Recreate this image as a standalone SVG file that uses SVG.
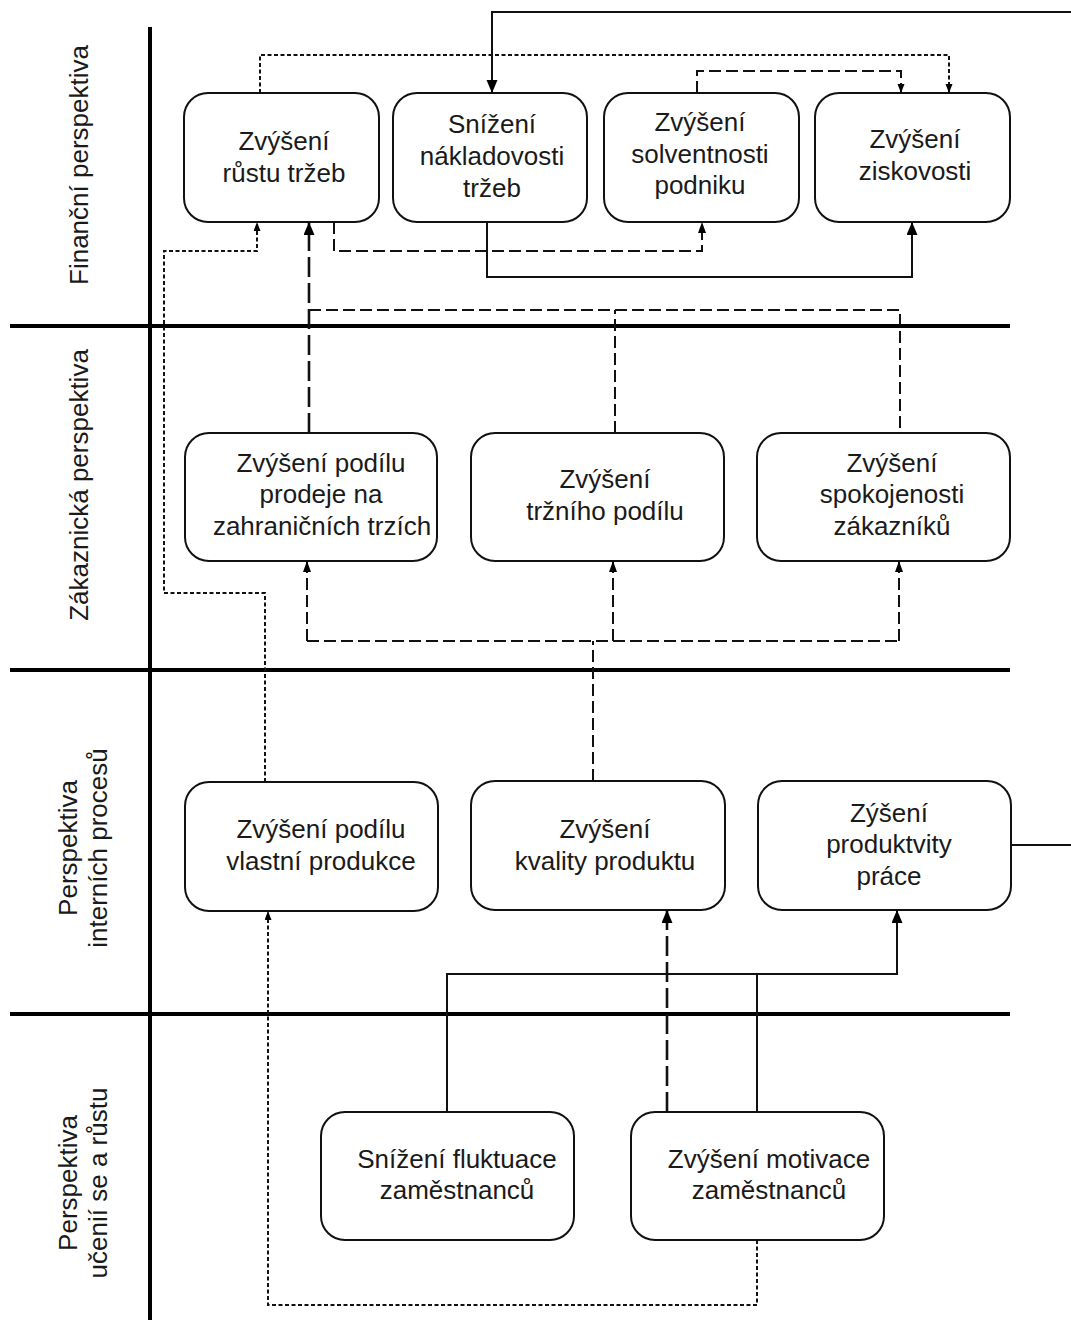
<svg xmlns="http://www.w3.org/2000/svg" width="1071" height="1320" viewBox="0 0 1071 1320">
  <style>
    .node rect { fill: #fff; stroke: #111; stroke-width: 2; }
    .node text, .lane text { font-family: "Liberation Sans", Arial, sans-serif; font-size: 26px; fill: #1a1a1a; text-anchor: middle; }
    .axis { stroke: #000; stroke-width: 4; fill: none; }
    .c { fill: none; stroke: #111; }
    .solid { stroke-width: 2; }
    .dash { stroke-width: 2; stroke-dasharray: 12 5; }
    .long { stroke-width: 2.6; stroke-dasharray: 20 6; }
    .dot { stroke-width: 2; stroke-dasharray: 4 2.5; }
  </style>
  <defs>
    <marker id="arrL" markerUnits="userSpaceOnUse" markerWidth="14" markerHeight="12" refX="13" refY="5.5" orient="auto">
      <path d="M0,0 L13,5.5 L0,11 z" fill="#000"/>
    </marker>
    <marker id="arrM" markerUnits="userSpaceOnUse" markerWidth="12" markerHeight="10" refX="11" refY="4" orient="auto">
      <path d="M0,0 L11,4 L0,8 z" fill="#000"/>
    </marker>
    <marker id="arrS" markerUnits="userSpaceOnUse" markerWidth="10" markerHeight="8" refX="9" refY="3.5" orient="auto">
      <path d="M0,0 L9,3.5 L0,7 z" fill="#000"/>
    </marker>
  </defs>

  <rect width="1071" height="1320" fill="#fff"/>

  <!-- lane grid -->
  <g id="lanes">
    <line class="axis" x1="150" y1="27" x2="150" y2="1320"/>
    <line class="axis" x1="10" y1="326" x2="1010" y2="326"/>
    <line class="axis" x1="10" y1="670" x2="1010" y2="670"/>
    <line class="axis" x1="10" y1="1014" x2="1010" y2="1014"/>
  </g>

  <!-- lane titles -->
  <g id="lane-titles" class="lane">
    <text transform="translate(88,165) rotate(-90)">Finanční perspektiva</text>
    <text transform="translate(88,485) rotate(-90)">Zákaznická perspektiva</text>
    <text transform="translate(77,848) rotate(-90)"><tspan x="0" y="0">Perspektiva</tspan><tspan x="0" dy="30">interních procesů</tspan></text>
    <text transform="translate(77,1183) rotate(-90)"><tspan x="0" y="0">Perspektiva</tspan><tspan x="0" dy="30">učenií se a růstu</tspan></text>
  </g>

  <!-- financial perspective -->
  <g id="n-rust-trzeb" class="node">
    <rect x="184" y="93" width="195" height="129" rx="24"/>
    <text x="284" y="150">Zvýšení</text>
    <text x="284" y="182">růstu tržeb</text>
  </g>
  <g id="n-nakladovost" class="node">
    <rect x="393" y="93" width="194" height="129" rx="24"/>
    <text x="492" y="133">Snížení</text>
    <text x="492" y="165">nákladovosti</text>
    <text x="492" y="197">tržeb</text>
  </g>
  <g id="n-solventnost" class="node">
    <rect x="604" y="93" width="195" height="129" rx="24"/>
    <text x="700" y="131">Zvýšení</text>
    <text x="700" y="163">solventnosti</text>
    <text x="700" y="194">podniku</text>
  </g>
  <g id="n-ziskovost" class="node">
    <rect x="815" y="93" width="195" height="129" rx="24"/>
    <text x="915" y="148">Zvýšení</text>
    <text x="915" y="180">ziskovosti</text>
  </g>

  <!-- customer perspective -->
  <g id="n-zahranici" class="node">
    <rect x="185" y="433" width="252" height="128" rx="24"/>
    <text x="321" y="472">Zvýšení podílu</text>
    <text x="321" y="503">prodeje na</text>
    <text x="322" y="535">zahraničních trzích</text>
  </g>
  <g id="n-trzni-podil" class="node">
    <rect x="471" y="433" width="253" height="128" rx="24"/>
    <text x="605" y="488">Zvýšení</text>
    <text x="605" y="520">tržního podílu</text>
  </g>
  <g id="n-spokojenost" class="node">
    <rect x="757" y="433" width="253" height="128" rx="24"/>
    <text x="892" y="472">Zvýšení</text>
    <text x="892" y="503">spokojenosti</text>
    <text x="892" y="535">zákazníků</text>
  </g>

  <!-- internal process perspective -->
  <g id="n-vlastni-produkce" class="node">
    <rect x="185" y="782" width="253" height="129" rx="24"/>
    <text x="321" y="838">Zvýšení podílu</text>
    <text x="321" y="870">vlastní produkce</text>
  </g>
  <g id="n-kvalita" class="node">
    <rect x="471" y="781" width="254" height="129" rx="24"/>
    <text x="605" y="838">Zvýšení</text>
    <text x="605" y="870">kvality produktu</text>
  </g>
  <g id="n-produktivita" class="node">
    <rect x="758" y="781" width="253" height="129" rx="24"/>
    <text x="889" y="822">Zýšení</text>
    <text x="889" y="853">produktvity</text>
    <text x="889" y="885">práce</text>
  </g>

  <!-- learning and growth perspective -->
  <g id="n-fluktuace" class="node">
    <rect x="321" y="1112" width="253" height="128" rx="24"/>
    <text x="457" y="1168">Snížení fluktuace</text>
    <text x="457" y="1199">zaměstnanců</text>
  </g>
  <g id="n-motivace" class="node">
    <rect x="631" y="1112" width="253" height="128" rx="24"/>
    <text x="769" y="1168">Zvýšení motivace</text>
    <text x="769" y="1199">zaměstnanců</text>
  </g>

  <!-- connectors -->
  <g id="connectors">
    <!-- productivity -> lower costs (runs round the right edge) -->
    <path class="c solid" d="M1011,845 H1078 V12 H492 V93" marker-end="url(#arrL)"/>
    <!-- sales growth -> profitability -->
    <path class="c dot" d="M260,93 V55 H949 V93" marker-end="url(#arrS)"/>
    <!-- solvency -> profitability -->
    <path class="c dash" d="M697,93 V71 H901 V93" marker-end="url(#arrS)"/>
    <!-- sales growth -> solvency -->
    <path class="c dash" d="M334,222 V251 H702 V222" marker-end="url(#arrM)"/>
    <!-- lower costs -> profitability -->
    <path class="c solid" d="M487,222 V277 H912 V222" marker-end="url(#arrL)"/>

    <!-- customer row -> sales growth -->
    <path class="c long" d="M309,433 V222" marker-end="url(#arrL)"/>
    <path class="c dash" d="M309,310 H900 V433"/>
    <path class="c dash" d="M615,433 V310"/>

    <!-- own production -> sales growth -->
    <path class="c dot" d="M265,782 V593 H164 V251 H257 V222" marker-end="url(#arrS)"/>

    <!-- product quality -> customer row -->
    <path class="c dash" d="M593,781 V641"/>
    <path class="c dash" d="M307,641 H899"/>
    <path class="c dash" d="M307,641 V561" marker-end="url(#arrM)"/>
    <path class="c dash" d="M613,641 V561" marker-end="url(#arrM)"/>
    <path class="c dash" d="M899,641 V561" marker-end="url(#arrM)"/>

    <!-- motivation -> product quality -->
    <path class="c long" d="M667,1112 V910" marker-end="url(#arrL)"/>
    <!-- fluctuation and motivation -> productivity -->
    <path class="c solid" d="M447,1112 V974 H897 V910" marker-end="url(#arrL)"/>
    <path class="c solid" d="M757,1112 V974"/>
    <!-- motivation -> own production -->
    <path class="c dot" d="M757,1240 V1305 H268 V911" marker-end="url(#arrS)"/>
  </g>
</svg>
